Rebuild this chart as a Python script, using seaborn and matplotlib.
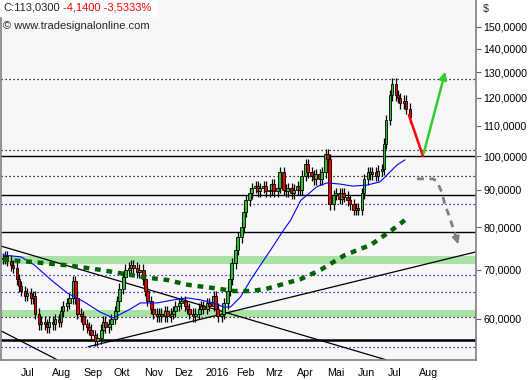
import pandas as pd
import seaborn as sns
import matplotlib.pyplot as plt
from matplotlib.patches import Rectangle
from matplotlib.ticker import NullLocator
from matplotlib.transforms import ScaledTranslation

sns.set_style("white")
plt.rcParams["font.family"] = ["Liberation Sans", "DejaVu Sans"]

# closes, one every 2 trading days from 15 Jun 2015
closes = [72.5, 73, 72, 71, 70.5,
          68, 66.5,
          65.5, 64.5, 65, 64, 64.5,
          61, 59,
          59.5, 59, 58.5, 59.5, 59, 60, 59.5,
          61.5, 62.5, 63,
          64, 67.5,
          64, 61, 60.5,
          59, 58.5, 58,
          57, 56, 56.5,
          58, 59.5, 58.5, 59, 60,
          61.5, 63.5, 66, 68.5, 70, 70.5,
          71, 70.5, 69.5, 70,
          68, 65.5, 63.5, 62,
          61, 60.5, 61, 60.5, 61.5, 60.5, 61, 61.5,
          62.5, 63, 63.5, 62.5, 62,
          61, 60.5, 61,
          62, 62.5, 62, 63, 62.5,
          64.5,
          62, 60.5, 61,
          63, 65.5, 68, 71.5, 74.5, 77.5,
          80, 84, 87, 89, 90.5,
          91, 89.5, 90.5, 91, 89.5,
          90, 91.5, 89.5, 90.5, 95,
          90, 89.5, 90.5, 89, 90, 91, 90,
          94, 97.5, 95,
          94, 93, 94.5, 93,
          95, 100.5, 99,
          86, 88.5,
          89, 87.5, 89, 88, 87,
          86, 84.5, 85, 84.5,
          89, 93,
          95, 94.5, 95, 94, 95.5, 96,
          104,
          112, 121,
          125.5,
          121, 120, 118, 119, 116, 113]

ma50_dates = ["2015-06-15", "2015-07-03", "2015-07-16", "2015-08-02", "2015-08-18",
              "2015-09-04", "2015-09-20", "2015-10-03", "2015-10-20", "2015-10-30",
              "2015-11-16", "2015-12-02", "2015-12-16", "2015-12-29", "2016-01-11",
              "2016-01-21", "2016-01-28", "2016-02-07", "2016-02-17", "2016-02-27",
              "2016-03-08", "2016-03-21", "2016-03-28", "2016-04-07", "2016-04-16",
              "2016-04-23", "2016-05-03", "2016-05-16", "2016-05-29", "2016-06-12",
              "2016-06-25", "2016-07-02", "2016-07-12", "2016-07-20"]
ma50 = [73.3, 72.9, 71.1, 67.8, 65.1, 63.3, 61.3, 60.2, 61.9, 63.1,
        63.1, 63.7, 64.1, 63.7, 63.1, 62.3, 62.3, 64.3, 67.8, 71.1,
        74.5, 79.3, 81.8, 87.0, 89.1, 90.8, 91.9, 91.6, 91.0, 91.3,
        92.2, 94.2, 97.2, 98.8]

ma200_dates = ["2015-06-15", "2015-07-16", "2015-08-18", "2015-09-20", "2015-11-02",
               "2015-11-26", "2015-12-16", "2016-01-11", "2016-01-31", "2016-02-17",
               "2016-03-03", "2016-03-18", "2016-04-07", "2016-04-27", "2016-05-21",
               "2016-06-16", "2016-07-06", "2016-07-20"]
ma200 = [72.3, 71.7, 71.0, 70.0, 68.4, 67.8, 66.8, 66.1, 65.5, 65.5,
         65.9, 66.8, 68.0, 70.0, 73.3, 75.7, 79.1, 81.8]

solid_levels = [100.0, 88.4, 78.8]
thick_level = 56.2
dotted_levels = [127.2, 101.8, 93.9, 60.3]
blue_levels = [86.0, 68.8, 65.3, 54.9]
bands = [(71.3, 73.1), (60.3, 61.8)]

trend_lines = [(["2015-06-13", "2016-07-01"], [75.4, 52.8]),
               (["2015-06-13", "2015-08-08"], [57.8, 52.8]),
               (["2015-09-08", "2016-09-28"], [55.0, 74.0])]

red_leg = (["2016-07-24", "2016-08-07"], [113.7, 100.0])
green_leg = (["2016-08-07", "2016-08-30"], [100.0, 131.4])
grey_leg = (["2016-08-01", "2016-08-17", "2016-08-21", "2016-08-26", "2016-08-29",
             "2016-09-03", "2016-09-06", "2016-09-09"],
            [93.1, 93.1, 92.4, 89.1, 85.8, 82.3, 79.8, 77.6])

month_ticks = pd.date_range("2015-07-01", "2016-08-01", freq="MS")
month_labels = ["Jul", "Aug", "Sep", "Okt", "Nov", "Dez", "2016", "Feb",
                "Mrz", "Apr", "Mai", "Jun", "Jul", "Aug"]
price_ticks = [60, 70, 80, 90, 100, 110, 120, 130, 140, 150]

# ---------------------------------------------------------------
dates = pd.bdate_range("2015-06-15", periods=len(closes), freq="2B")
opens = [closes[0]] + closes[:-1]
highs = [max(o, c) * 1.017 for o, c in zip(opens, closes)]
lows = [min(o, c) * 0.983 for o, c in zip(opens, closes)]

fig = plt.figure(figsize=(5.3, 3.8), dpi=100)
fig.patch.set_facecolor("white")
ax = fig.add_axes([0.002, 20 / 380, 475 / 530, 360 / 380])
ax.set_facecolor("#F7F7F7")
ax.set_yscale("log")

for lo, hi in bands:
    ax.axhspan(lo, hi, color="#A9E2A4", zorder=0.5, lw=0)
for lv in solid_levels:
    ax.axhline(lv, color="black", lw=1.0, zorder=1)
ax.axhline(thick_level, color="black", lw=1.8, zorder=1)
for lv in dotted_levels:
    ax.axhline(lv, color="black", lw=0.9, ls=(0, (1, 2.2)), zorder=1)
for lv in blue_levels:
    ax.axhline(lv, color="#0000EE", lw=0.9, ls=(0, (1, 2.2)), zorder=1)

for xs, ys in trend_lines:
    sns.lineplot(x=pd.to_datetime(xs), y=ys, ax=ax, color="black", lw=0.9, zorder=2)

# candles
ax.vlines(dates, lows, highs, color="black", lw=0.9, zorder=3)
up = [c >= o for o, c in zip(opens, closes)]
bottoms = [min(o, c) for o, c in zip(opens, closes)]
heights = [max(abs(c - o), 0.2) for o, c in zip(opens, closes)]
ax.bar(dates, heights, bottom=bottoms, width=2.6,
       color=["#2EC02E" if u else "#F00000" for u in up],
       edgecolor="black", lw=0.6, zorder=4)

sns.lineplot(x=pd.to_datetime(ma50_dates), y=ma50, ax=ax, color="#0000FF", lw=0.8, zorder=5)
sns.lineplot(x=pd.to_datetime(ma200_dates), y=ma200, ax=ax, color="#006400", lw=3.2,
             linestyle=(0, (1.3, 1.3)), zorder=5)

# projection arrows
sns.lineplot(x=pd.to_datetime(red_leg[0]), y=red_leg[1], ax=ax, color="#FF0000", lw=1.8, zorder=6)
ax.annotate("", xy=(pd.Timestamp(green_leg[0][1]), green_leg[1][1]),
            xytext=(pd.Timestamp(green_leg[0][0]), green_leg[1][0]),
            arrowprops=dict(arrowstyle="-|>", color="#33CC33", lw=1.8, mutation_scale=11),
            zorder=6)
gx = pd.to_datetime(grey_leg[0])
ax.plot(gx, grey_leg[1], color="#808080", lw=2.0, ls=(0, (2.5, 2)), zorder=6)
ax.annotate("", xy=(pd.Timestamp("2016-09-12"), 75.2), xytext=(gx[-1], grey_leg[1][-1]),
            arrowprops=dict(arrowstyle="-|>", color="#808080", lw=1.5, mutation_scale=11),
            zorder=6)

ax.set_xlim(pd.Timestamp("2015-06-13"), pd.Timestamp("2016-09-29"))
ax.set_ylim(52.76, 163.1)

ax.yaxis.tick_right()
ax.set_yticks(price_ticks)
ax.set_yticklabels([f"{v},0000" for v in price_ticks])
ax.yaxis.set_minor_locator(NullLocator())
ax.set_xticks(month_ticks)
ax.set_xticklabels(month_labels)
ax.tick_params(axis="both", length=3.5, width=0.8, color="#606060", labelsize=7.7,
               labelcolor="black")
ax.tick_params(axis="y", pad=2)
ax.tick_params(axis="x", pad=2)
shift = ScaledTranslation(2 / 100, 0, fig.dpi_scale_trans)
for lab in ax.get_xticklabels():
    lab.set_horizontalalignment("left")
    lab.set_transform(lab.get_transform() + shift)
ax.set_xlabel("")
ax.set_ylabel("")
for side in ["left", "right", "bottom"]:
    ax.spines[side].set_color("#808080")
    ax.spines[side].set_linewidth(1.2)
ax.spines["top"].set_visible(False)

fig.text(483 / 530, 1 - 9 / 380, "$", fontsize=7.7, va="center", ha="left")
fig.patches.append(Rectangle((0, 1 - 16 / 380), 156 / 530, 16 / 380,
                             transform=fig.transFigure, color="white", zorder=9))
fig.text(3 / 530, 1 - 8 / 380, "C:113,0300", fontsize=8, va="center", ha="left", zorder=10)
fig.text(63 / 530, 1 - 8 / 380, "-4,1400 -3,5333%", fontsize=8, color="#FF0000",
         va="center", ha="left", zorder=10)
fig.text(3 / 530, 1 - 26 / 380, "\u00a9 www.tradesignalonline.com", fontsize=8,
         va="center", ha="left", zorder=10)

fig.savefig("out.png", dpi=100)
